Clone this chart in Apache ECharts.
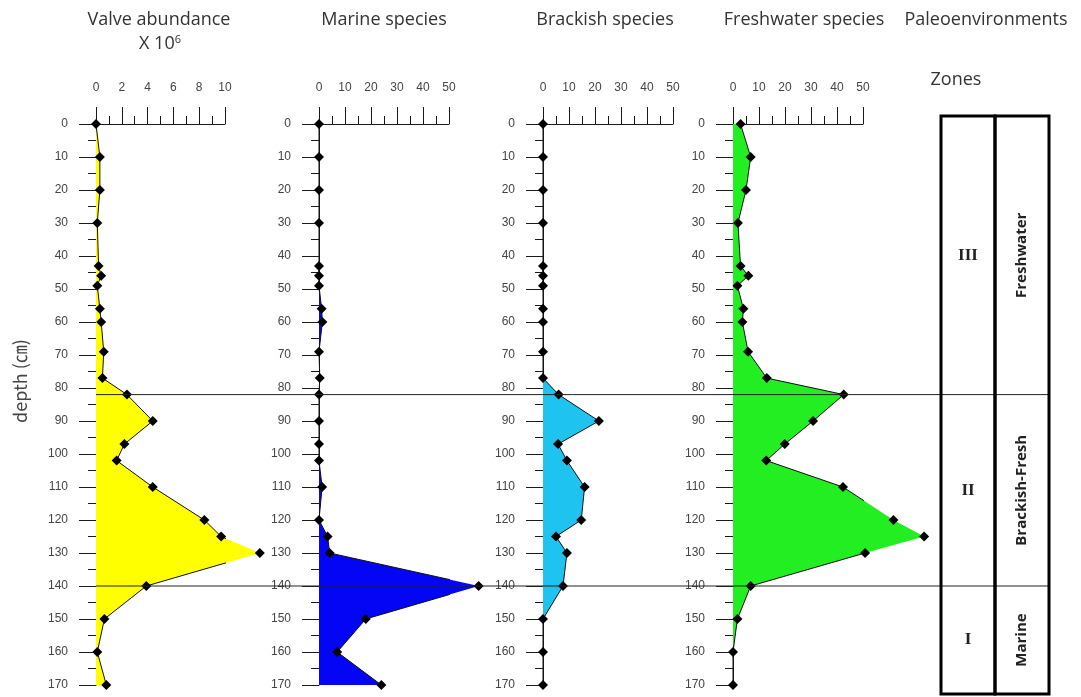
<!DOCTYPE html>
<html>
<head>
<meta charset="utf-8">
<script src="https://cdn.jsdelivr.net/npm/echarts@6/dist/echarts.min.js"></script>
<style>
html,body{margin:0;padding:0;background:#fff;}
#c{width:1081px;height:697px;}
</style>
</head>
<body>
<div id="c"></div>
<script>
// ---- data ----
const depths = [0,10,20,30,43,46,49,56,60,69,77,82,90,97,102,110,120,125,130,140,150,160,170];
const valveAbundance = [0,0.3,0.3,0.1,0.2,0.4,0.1,0.3,0.4,0.6,0.5,2.4,4.4,2.2,1.6,4.4,8.4,9.7,12.7,3.9,0.65,0.1,0.8];
const marineSpecies = [0,0,0,0,0,0,0,1,1.3,0,0.3,0,0,0,0,1.2,0,3.3,4.1,61.4,18,7,24];
const brackishSpecies = [0,0,0,0,0,0,0,0,0,0,0,6,21.5,5.8,9.2,16,14.7,5,9.2,7.7,0,0,0];
const freshwaterSpecies = [2.9,6.8,5,1.9,2.9,5.9,1.7,4,3.6,5.8,13,42.6,30.8,19.9,12.8,42.3,61.7,73.5,50.8,6.8,1.7,0,0];
const panelTitles = ['Valve abundance','Marine species','Brackish species','Freshwater species'];
const xMax = [10,50,50,50];
const xInterval = [2,10,10,10];
const depthTicks = {min:0, max:170, interval:10};
const zoneBounds = [82,140];
const zoneNames = ['III','II','I'];
const environments = ['Freshwater','Brackish-Fresh','Marine'];

// ---- layout ----
const seriesVals = [valveAbundance, marineSpecies, brackishSpecies, freshwaterSpecies];
const fills = ['#ffff00','#0505f5','#1fc3f0','#22ee22'];
const gridLeft = [96,319,543,733];
const gridWidth = [129,130,130,130];
const GT = 124, GB = 12;
const axisColor = '#1a1a1a';
const labelFont = {fontFamily:'Liberation Sans, Arial, sans-serif', fontSize:12, color:'#444'};

const chart = echarts.init(document.getElementById('c'), null, {renderer:'canvas'});
const grids=[], xAxes=[], yAxes=[], series=[];
for (let p=0;p<4;p++){
  grids.push({left:gridLeft[p], width:gridWidth[p], top:GT, bottom:GB, containLabel:false});
  xAxes.push({
    type:'value', gridIndex:p, position:'top', min:0, max:xMax[p], interval:xInterval[p],
    axisLine:{show:true, onZero:false, lineStyle:{color:axisColor,width:1}},
    axisTick:{show:true, inside:false, length:17, lineStyle:{color:axisColor,width:1}},
    minorTick:{show:true, splitNumber:2, length:8, lineStyle:{color:axisColor,width:1}},
    axisLabel:Object.assign({margin:30}, labelFont),
    splitLine:{show:false}
  });
  yAxes.push({
    type:'value', gridIndex:p, inverse:true, min:depthTicks.min, max:depthTicks.max, interval:depthTicks.interval,
    axisLine:{show:true, onZero:false, lineStyle:{color:axisColor,width:1}},
    axisTick:{show:true, inside:false, length:17, lineStyle:{color:axisColor,width:1}},
    minorTick:{show:true, splitNumber:2, length:8, lineStyle:{color:axisColor,width:1}},
    axisLabel:Object.assign({margin:28}, labelFont),
    splitLine:{show:false}
  });
  const vals = seriesVals[p];
  const pairs = vals.map((v,i)=>[v, depths[i]]);
  const color = fills[p];
  series.push({
    type:'custom', xAxisIndex:p, yAxisIndex:p, data:pairs, clip:false, z:2,
    encode:{x:0,y:1},
    renderItem:function(params, api){
      if (params.dataIndex !== 0) return null;
      const pts = [api.coord([0, depths[0]])];
      for (let i=0;i<vals.length;i++) pts.push(api.coord([vals[i], depths[i]]));
      pts.push(api.coord([0, depths[depths.length-1]]));
      return {type:'polygon', shape:{points:pts}, style:{fill:color, stroke:null}};
    },
    silent:true
  });
  series.push({
    type:'line', xAxisIndex:p, yAxisIndex:p, data:pairs, clip:false, z:3,
    symbol:'diamond', symbolSize:[10,10], showSymbol:true,
    itemStyle:{color:'#000'}, lineStyle:{color:'#111', width:1},
    silent:true
  });
}

chart.setOption({
  animation:false,
  backgroundColor:'#fff',
  grid:grids, xAxis:xAxes, yAxis:yAxes, series:series
});

// ---- annotations ----
const titleFont = 'Open Sans, Noto Sans, sans-serif';
const g = [];
const titleX = [159,384,605,804];
for (let p=0;p<4;p++){
  g.push({type:'text', x:titleX[p], y:20, style:{text:panelTitles[p], fontFamily:titleFont, fontSize:18, fill:'#333', textAlign:'center', textVerticalAlign:'middle'}});
}
g.push({type:'text', x:160, y:44, style:{
  text:'X 10{s|6}', fontFamily:titleFont, fontSize:18, fill:'#333', textAlign:'center', textVerticalAlign:'middle',
  rich:{s:{fontSize:11, fontFamily:titleFont, fill:'#333', verticalAlign:'top', padding:[0,0,8,0]}}
}});
g.push({type:'text', x:986, y:20, style:{text:'Paleoenvironments', fontFamily:titleFont, fontSize:18, fill:'#333', textAlign:'center', textVerticalAlign:'middle'}});
g.push({type:'text', x:956, y:80, style:{text:'Zones', fontFamily:titleFont, fontSize:18, fill:'#333', textAlign:'center', textVerticalAlign:'middle'}});
g.push({type:'text', x:20, y:381, rotation:Math.PI/2, style:{text:'depth (㎝)', fontFamily:'Noto Sans CJK KR, Noto Sans, sans-serif', fontSize:18, fill:'#444', textAlign:'center', textVerticalAlign:'middle'}});

// zone boundary lines via the depth scale
const boxL = 941, boxM = 995, boxR = 1049, boxT = 116, boxB = 694;
const bY = zoneBounds.map(d => chart.convertToPixel({yAxisIndex:0}, d));
bY.forEach(y => {
  g.push({type:'line', shape:{x1:gridLeft[0], y1:y, x2:boxR, y2:y}, style:{stroke:'#222', lineWidth:1}, z:10});
});
// zone box
g.push({type:'rect', shape:{x:boxL, y:boxT, width:boxM-boxL, height:boxB-boxT}, style:{fill:'none', stroke:'#000', lineWidth:3}, z:11});
g.push({type:'rect', shape:{x:boxM, y:boxT, width:boxR-boxM, height:boxB-boxT}, style:{fill:'none', stroke:'#000', lineWidth:3}, z:11});
const edges = [boxT].concat(bY).concat([boxB]);
for (let i=0;i<3;i++){
  const cy = (edges[i]+edges[i+1])/2;
  g.push({type:'text', x:(boxL+boxM)/2, y:cy, style:{text:zoneNames[i], fontFamily:'Liberation Serif, Times New Roman, serif', fontWeight:'bold', fontSize:17, fill:'#222', textAlign:'center', textVerticalAlign:'middle'}, z:12});
  g.push({type:'text', x:(boxM+boxR)/2, y:cy, rotation:Math.PI/2, style:{text:environments[i], fontFamily:'Open Sans, Noto Sans, sans-serif', fontWeight:'bold', fontSize:15, fill:'#222', textAlign:'center', textVerticalAlign:'middle'}, z:12});
}
chart.setOption({graphic:g});
</script>
</body>
</html>
